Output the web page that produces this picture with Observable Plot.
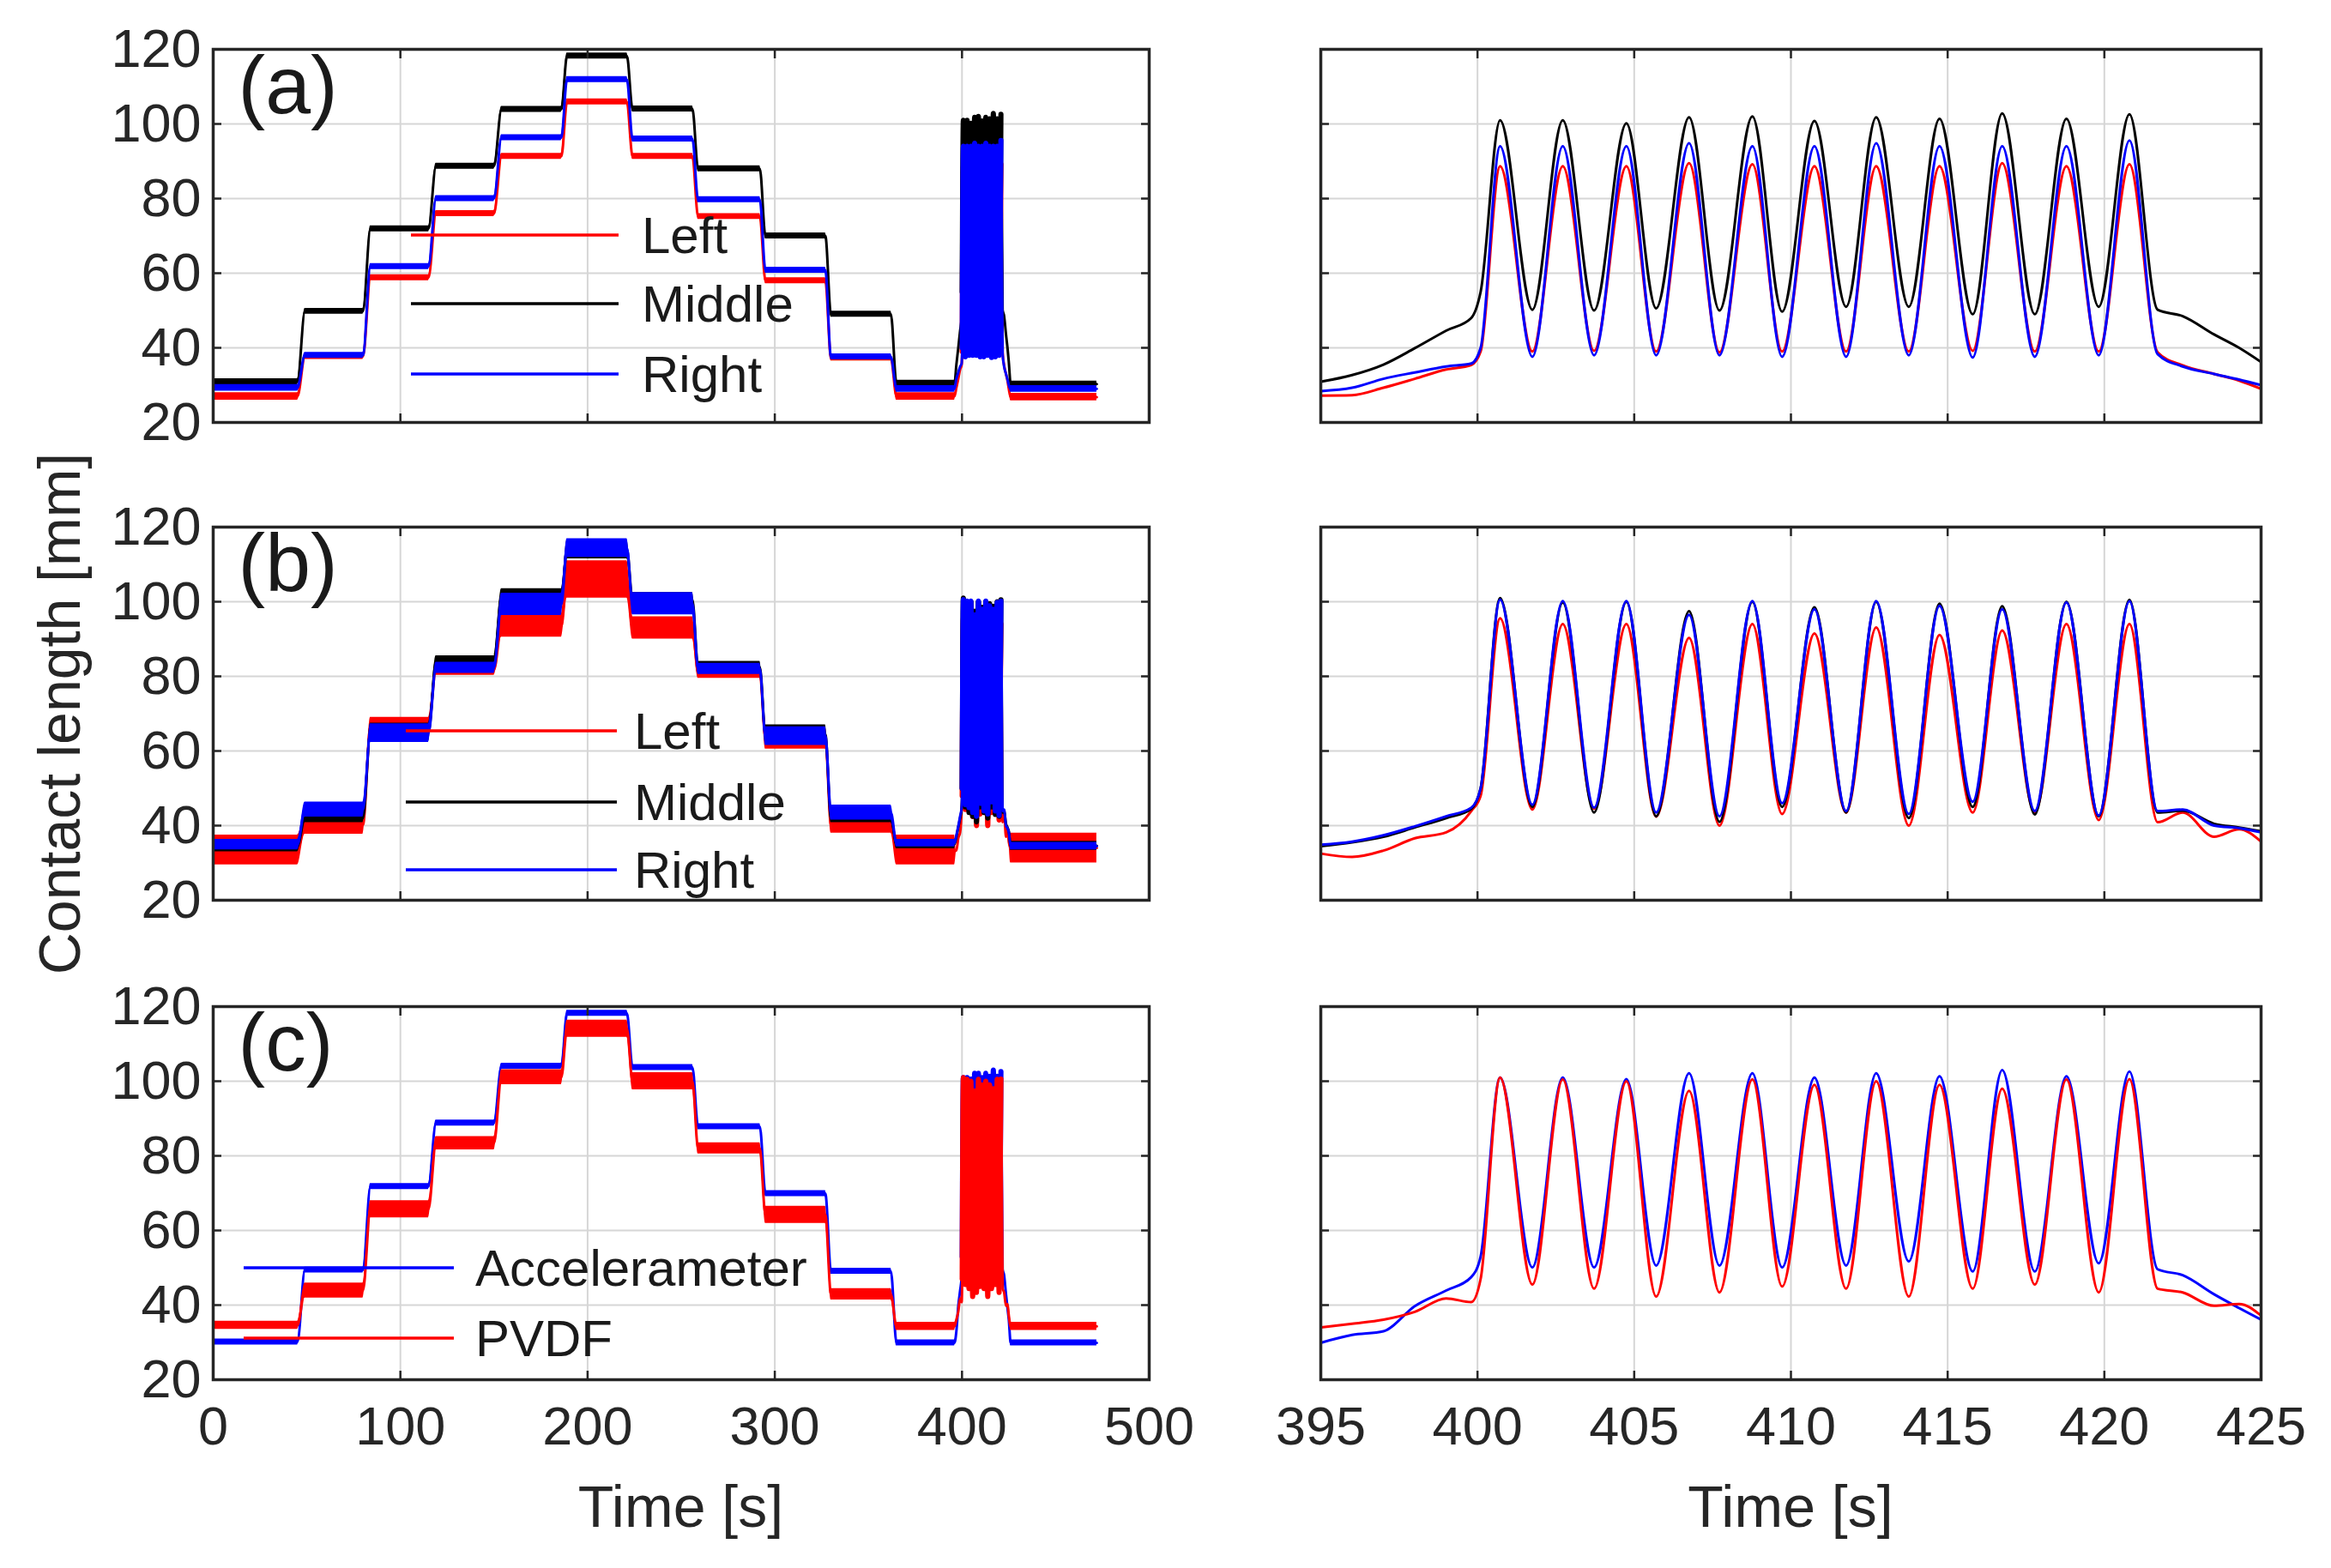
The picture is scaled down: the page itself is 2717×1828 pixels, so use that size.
<!DOCTYPE html>
<html><head><meta charset="utf-8">
<script src="https://cdn.jsdelivr.net/npm/d3@7"></script>
<script src="https://cdn.jsdelivr.net/npm/@observablehq/plot@0.6"></script>
<style>
body{margin:0;background:#fff;}
#fig{position:relative;width:2717px;height:1828px;background:#fff;font-family:"Liberation Sans",Arial,sans-serif;overflow:hidden;}
.panel{position:absolute;}
#overlay{position:absolute;left:0;top:0;}
</style></head><body><div id="fig"></div>
<script>
// ---------- ticks ----------
const xTicksLeft = [0, 100, 200, 300, 400, 500];
const xTicksRight = [395, 400, 405, 410, 415, 420, 425];
const yTicks = [20, 40, 60, 80, 100, 120];

// ---------- staircase (left column) ----------
const stepStart = [0, 49, 84, 119, 154, 189, 224, 259, 295, 330, 365, 426];
const stepEnd   = [45, 80, 115, 150, 186, 221, 256, 292, 327, 362, 396, 472];

// (a)
const aLeftLevels   = [27, 37.7, 58.8, 76, 91.3, 105.9, 91.3, 75.2, 58, 37.3, 27, 26.8];
const aLeftNoise    = [1, 0.8, 0.8, 0.8, 0.8, 0.8, 0.8, 0.8, 0.8, 0.8, 1, 1];
const aMiddleLevels = [30.9, 49.8, 71.9, 88.7, 103.9, 118.2, 104, 88, 70, 49, 30.5, 30.3];
const aMiddleNoise  = [0.8, 0.8, 0.8, 0.8, 0.8, 0.8, 0.8, 0.8, 0.8, 0.8, 0.8, 0.8];
const aRightLevels  = [29.3, 38, 61.8, 80, 96.3, 111.9, 96, 79.7, 60.8, 37.6, 29, 29];
const aRightNoise   = [0.9, 0.8, 0.8, 0.8, 0.8, 0.8, 0.8, 0.8, 0.8, 0.8, 0.9, 0.9];
// (b)
const bLeftLevels   = [33.5, 40.2, 66.5, 81.8, 93.5, 106, 93, 81, 63.5, 40.2, 33.5, 34];
const bLeftNoise    = [4, 2.5, 2.5, 1.5, 3, 5, 3, 1.5, 3, 2.2, 4, 4];
const bMiddleLevels = [34.5, 42, 65, 84, 101.5, 114, 100.5, 82.5, 64.5, 42, 35, 34.6];
const bMiddleNoise  = [1.5, 1.2, 2.5, 1.5, 2, 2.5, 2, 1.5, 2.5, 1.2, 1.2, 1.2];
const bRightLevels  = [34.9, 44.3, 64.8, 82.3, 99.3, 114.4, 99.5, 82, 64, 43.5, 35.3, 34.5];
const bRightNoise   = [1.4, 2, 2.5, 1.5, 3, 2.5, 3, 1.5, 2.5, 2, 1, 1];
// (c)
const cAccLevels  = [30.1, 49.4, 71.8, 88.8, 104, 118.2, 103.7, 87.8, 69.9, 49.1, 29.9, 29.9];
const cAccNoise   = [0.8, 0.8, 0.8, 0.8, 0.8, 0.8, 0.8, 0.8, 0.8, 0.8, 0.8, 0.8];
const cPvdfLevels = [34.6, 43.9, 65.7, 83.4, 101.1, 114.1, 100, 82, 64.2, 42.9, 34.3, 34.3];
const cPvdfNoise  = [1.1, 2, 2.3, 1.8, 2, 2.3, 2.3, 1.5, 2.3, 1.5, 1.1, 1.1];

// ---------- oscillation burst (right column) ----------
const preT    = [395, 396, 397, 398, 399, 399.8, 400.1];
const peakT   = [400.72, 402.72, 404.75, 406.75, 408.77, 410.75, 412.72, 414.74, 416.74, 418.79, 420.8];
const troughT = [401.75, 403.72, 405.7, 407.72, 409.72, 411.76, 413.76, 415.8, 417.78, 419.82];
const postT   = [421.7, 422.5, 423.5, 424.3, 425];

// (a)
const aMiddlePre     = [30.9, 32.7, 35.5, 39.9, 44.6, 48, 55];
const aMiddlePeaks   = [101, 101, 100.2, 101.8, 102, 100.8, 101.8, 101.4, 102.8, 101.4, 102.6];
const aMiddleTroughs = [50.2, 50, 50.6, 50, 49.7, 51, 51, 49, 49, 51];
const aMiddlePost    = [50.2, 48.5, 43.6, 40, 36.2];
const aRightPre      = [28.4, 29.3, 31.7, 33.4, 35, 35.8, 40];
const aRightPeaks    = [94, 94, 94, 94.8, 94, 94, 94.8, 94, 94, 94, 95.6];
const aRightTroughs  = [37.6, 38, 38, 38, 37.6, 37.6, 38, 37.4, 37.6, 38];
const aRightPost     = [38.3, 35, 33, 31.5, 30];
const aLeftPre       = [27.2, 27.3, 29.3, 31.7, 34.2, 35.4, 39];
const aLeftPeaks     = [88.7, 88.7, 88.7, 89.5, 89.2, 88.7, 88.7, 88.7, 89.5, 88.7, 89.2];
const aLeftTroughs   = [39, 39.2, 39, 38.8, 39, 39, 39, 39.2, 39, 39];
const aLeftPost      = [38.8, 35.3, 33, 31.2, 29];
// (b)
const bRightPre      = [34.9, 35.7, 37.4, 39.8, 42.5, 44.8, 50];
const bRightPeaks    = [100.6, 100.2, 100.2, 96.5, 100.2, 98, 100.2, 98.9, 98, 99.8, 100.2];
const bRightTroughs  = [45.6, 44.8, 43.5, 42.5, 46, 43.9, 43.1, 46.4, 43.9, 42.7];
const bRightPost     = [43.9, 44.3, 40, 39.3, 38.2];
const bMiddlePre     = [34.5, 35.5, 37, 39.5, 42, 44.5, 50];
const bMiddlePeaks   = [101, 99.8, 100, 97.5, 100, 98.5, 100, 99.5, 98.8, 100, 100.5];
const bMiddleTroughs = [45, 43.5, 42.5, 41, 45, 43.5, 42, 45, 43, 42.5];
const bMiddlePost    = [43.5, 44, 40.5, 39.5, 38.5];
const bLeftPre       = [32.5, 31.6, 33.3, 36.6, 38.2, 43.9, 48];
const bLeftPeaks     = [95.6, 94, 94, 90.3, 94, 91.5, 93.1, 91.1, 92.3, 94, 94];
const bLeftTroughs   = [44.3, 44.5, 42.4, 40, 43.1, 43.5, 40, 43.5, 43.5, 41.5];
const bLeftPost      = [40.9, 43.5, 37, 39, 35.7];
// (c)
const cAccPre      = [29.9, 32, 33, 39.7, 43.9, 47.5, 53];
const cAccPeaks    = [101, 101, 100.6, 102.1, 102.1, 101, 102.1, 101.3, 103, 101.3, 102.6];
const cAccTroughs  = [50.1, 50.1, 50.6, 50.6, 50.1, 50.6, 51.7, 49, 49, 51.2];
const cAccPost     = [49.6, 48, 42.9, 39.2, 36.1];
const cPvdfPre     = [34, 35, 36.1, 38.2, 41.8, 40.8, 47];
const cPvdfPeaks   = [101, 100.5, 100, 97.4, 100.5, 99, 100, 99, 98, 100.5, 100.6];
const cPvdfTroughs = [45.5, 44.4, 42.3, 43.4, 45, 44.4, 42.3, 44.4, 45.5, 43.4];
const cPvdfPost    = [44.4, 43.4, 39.8, 40.3, 37.2];

// ---------- labels ----------
const panelLabels = ["(a)", "(b)", "(c)"];
const legendA = ["Left", "Middle", "Right"];
const legendC = ["Accelerameter", "PVDF"];
const yLabel = "Contact length [mm]";
const xLabel = "Time [s]";

const RED = "#ff0000", BLACK = "#000000", BLUE = "#0000ff";

// ---------- build rows ----------
function burstRows(pre, peaks, troughs, post) {
  const rows = [];
  preT.forEach((t, i) => rows.push({t, y: pre[i]}));
  peakT.forEach((t, i) => rows.push({t, y: peaks[i]}));
  troughT.forEach((t, i) => rows.push({t, y: troughs[i]}));
  postT.forEach((t, i) => rows.push({t, y: post[i]}));
  return rows.sort((a, b) => a.t - b.t);
}
function stepRows(levels, noise, burst) {
  const rows = [];
  const seg = i => {
    rows.push({t: stepStart[i], y: levels[i], lo: levels[i] - noise[i], hi: levels[i] + noise[i]});
    rows.push({t: stepEnd[i], y: levels[i], lo: levels[i] - noise[i], hi: levels[i] + noise[i]});
  };
  for (let i = 0; i < 11; i++) seg(i);
  burst.filter(d => d.t > stepEnd[10] && d.t < stepStart[11]).forEach(d => rows.push({t: d.t, y: d.y, lo: d.y, hi: d.y}));
  seg(11);
  return rows;
}
function makeSeries(color, levels, noise, pre, peaks, troughs, post) {
  const burst = burstRows(pre, peaks, troughs, post);
  return {color, burst, steps: stepRows(levels, noise, burst)};
}

const seriesA = [
  makeSeries(RED, aLeftLevels, aLeftNoise, aLeftPre, aLeftPeaks, aLeftTroughs, aLeftPost),
  makeSeries(BLACK, aMiddleLevels, aMiddleNoise, aMiddlePre, aMiddlePeaks, aMiddleTroughs, aMiddlePost),
  makeSeries(BLUE, aRightLevels, aRightNoise, aRightPre, aRightPeaks, aRightTroughs, aRightPost)
];
const seriesB = [
  makeSeries(RED, bLeftLevels, bLeftNoise, bLeftPre, bLeftPeaks, bLeftTroughs, bLeftPost),
  makeSeries(BLACK, bMiddleLevels, bMiddleNoise, bMiddlePre, bMiddlePeaks, bMiddleTroughs, bMiddlePost),
  makeSeries(BLUE, bRightLevels, bRightNoise, bRightPre, bRightPeaks, bRightTroughs, bRightPost)
];
const seriesC = [
  makeSeries(BLUE, cAccLevels, cAccNoise, cAccPre, cAccPeaks, cAccTroughs, cAccPost),
  makeSeries(RED, cPvdfLevels, cPvdfNoise, cPvdfPre, cPvdfPeaks, cPvdfTroughs, cPvdfPost)
];

// ---------- layout ----------
const FRAME_H = 435;
const rowTops = [57, 614, 1173];
const colLeft = {x: 248, w: 1091};
const colRight = {x: 1539, w: 1096};
const M = 12;

const fig = document.getElementById("fig");

function panel(series, row, isLeft) {
  const col = isLeft ? colLeft : colRight;
  const xTicks = isLeft ? xTicksLeft : xTicksRight;
  const bottom = row === 2;
  const mL = isLeft ? 160 : M;
  const mB = bottom ? 110 : M;
  const grid = {stroke: "#d6d6d6", strokeOpacity: 1, strokeWidth: 2};
  const tickStyle = {tickSize: -10, tickFormat: () => "", stroke: "#262626", strokeWidth: 2.5, label: null};
  const marks = [
    Plot.gridX(xTicks, grid),
    Plot.gridY(yTicks, grid)
  ];
  for (const s of series) {
    if (isLeft) {
      marks.push(Plot.areaY(s.steps, {x: "t", y1: "lo", y2: "hi", fill: s.color, curve: "monotone-x", clip: true}));
      marks.push(Plot.line(s.steps, {x: "t", y: "y", stroke: s.color, strokeWidth: 3, curve: "monotone-x", clip: true}));
      // the fast oscillation looks like a solid block at this time scale
      marks.push(Plot.line(s.burst, {filter: d => d.t > 400 && d.t < 421.5, x: "t", y: "y", stroke: s.color, strokeWidth: 6, curve: "monotone-x", clip: true}));
    } else {
      marks.push(Plot.line(s.burst, {x: "t", y: "y", stroke: s.color, strokeWidth: 3, curve: "monotone-x", clip: true}));
    }
  }
  marks.push(
    Plot.frame({stroke: "#262626", strokeWidth: 3.5}),
    Plot.axisX(xTicks, {anchor: "bottom", ...tickStyle}),
    Plot.axisX(xTicks, {anchor: "top", ...tickStyle}),
    Plot.axisY(yTicks, {anchor: "left", ...tickStyle}),
    Plot.axisY(yTicks, {anchor: "right", ...tickStyle})
  );
  if (bottom) marks.push(Plot.axisX(xTicks, {anchor: "bottom", tickSize: 0, tickPadding: 31, fontSize: 63, fill: "#262626", label: null}));
  if (isLeft) {
    marks.push(Plot.axisY(yTicks, {anchor: "left", tickSize: 0, tickPadding: 14, fontSize: 63, fill: "#262626", label: null}));
    marks.push(Plot.text([panelLabels[row]], {frameAnchor: "top-left", dx: 29, dy: 7, fontSize: 95, textAnchor: "start", lineAnchor: "top", fill: "#1a1a1a"}));
  }
  const svg = Plot.plot({
    width: mL + col.w + M,
    height: M + FRAME_H + mB,
    marginLeft: mL, marginRight: M, marginTop: M, marginBottom: mB,
    x: {domain: isLeft ? [0, 500] : [395, 425], axis: null},
    y: {domain: [20, 120], axis: null},
    style: {fontFamily: "Liberation Sans, Arial, sans-serif", overflow: "visible", background: "transparent"},
    marks
  });
  const wrap = document.createElement("div");
  wrap.className = "panel";
  wrap.style.left = (col.x - mL) + "px";
  wrap.style.top = (rowTops[row] - M) + "px";
  wrap.appendChild(svg);
  fig.appendChild(wrap);
}

panel(seriesA, 0, true); panel(seriesA, 0, false);
panel(seriesB, 1, true); panel(seriesB, 1, false);
panel(seriesC, 2, true); panel(seriesC, 2, false);

// ---------- overlay: axis titles and legends ----------
const ov = d3.select(fig).append("svg").attr("id", "overlay").attr("width", 2717).attr("height", 1828)
  .style("font-family", "Liberation Sans, Arial, sans-serif");
ov.append("text").attr("transform", "translate(93,832) rotate(-90)").attr("text-anchor", "middle")
  .attr("font-size", 68).attr("fill", "#262626").text(yLabel);
[colLeft, colRight].forEach(c => ov.append("text").attr("x", c.x + c.w / 2).attr("y", 1780)
  .attr("text-anchor", "middle").attr("font-size", 68).attr("fill", "#262626").text(xLabel));

function legend(labels, colors, ys, x1, x2, tx) {
  labels.forEach((lab, i) => {
    ov.append("line").attr("x1", x1).attr("x2", x2).attr("y1", ys[i]).attr("y2", ys[i])
      .attr("stroke", colors[i]).attr("stroke-width", 3.5);
    ov.append("text").attr("x", tx).attr("y", ys[i] + 21).attr("font-size", 60).attr("fill", "#1a1a1a").text(lab);
  });
}
legend(legendA, [RED, BLACK, BLUE], [274, 354, 436], 479, 721, 748);
legend(legendA, [RED, BLACK, BLUE], [852, 935, 1014], 473, 719, 739);
legend(legendC, [BLUE, RED], [1478, 1560], 284, 529, 554);
</script></body></html>
